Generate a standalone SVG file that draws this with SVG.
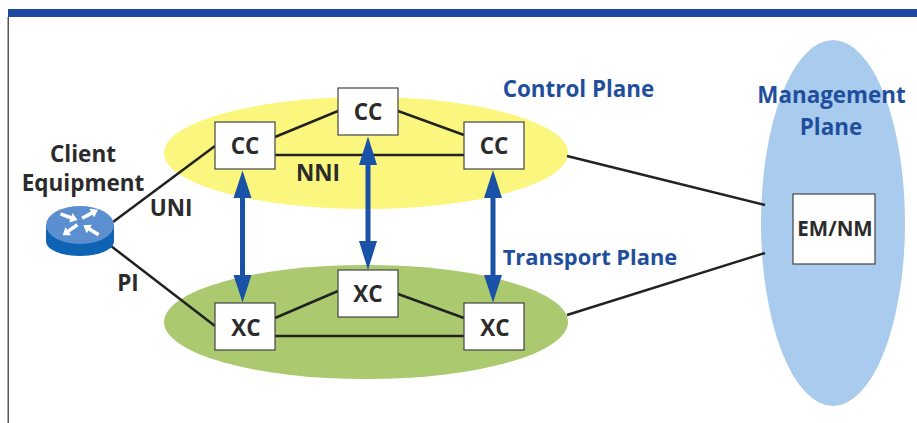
<svg xmlns="http://www.w3.org/2000/svg" width="917" height="423" viewBox="0 0 917 423">
<defs>
<path id="ar" d="M-9 -1.800H2V-5L9 0L2 5V1.800H-9Z" fill="#fff"/>
</defs>
<style>
text{font-family:"Open Sans","Noto Sans",sans-serif;font-weight:700;text-anchor:middle}
.k{fill:#2b2b2b;font-size:22.500px}
.b{fill:#1f4f9c;font-size:22.400px}
.n{fill:#fff;stroke:#444;stroke-width:1.2}
.l{stroke:#222;stroke-width:2.500;fill:none}
.a{stroke:#1a52a8;stroke-width:5;fill:none}
.h{fill:#1a52a8}
</style>
<rect width="917" height="423" fill="#fff"/>
<rect x="8" y="9" width="909" height="8" fill="#1d4aa0"/>
<rect x="7.500" y="17" width="1.500" height="406" fill="#555"/>
<g id="planes">
<ellipse cx="366" cy="153" rx="202" ry="56" fill="#fbf77e"/>
<ellipse cx="366" cy="322" rx="202" ry="57" fill="#abc96f"/>
<ellipse cx="833" cy="223" rx="72" ry="183" fill="#a9cbee"/>
</g>
<g id="connectors">
<path class="l" d="M113 222L215 146M111 246L215 326M275 137L338 111M398 111L464 135M275 155H464M275 318L338 291M398 294L464 318M275 336H464M567 156L765 205M567 315L765 253"/>
<path class="a" d="M242.500 195V277M368 162V244M493 195V277"/>
<path class="h" d="M242.500 170.500L233.500 198H251.500ZM242.500 302.500L233.500 275H251.500ZM368 136.500L359 165H377ZM368 270L359 241H377ZM493 170L484 198H502ZM493 302.500L484 275H502Z"/>
</g>
<g id="router">
<path d="M46 225V241C46 250 62 256 80 256C98 256 114 250 114 241V225Z" fill="#0f63b5"/>
<ellipse cx="80" cy="225" rx="34" ry="19" fill="#5b8fd0"/>
<use href="#ar" transform="translate(69 217) rotate(20)"/>
<use href="#ar" transform="translate(90 214) rotate(-28)"/>
<use href="#ar" transform="translate(70 230) rotate(145)"/>
<use href="#ar" transform="translate(91 230) rotate(212)"/>
</g>
<g id="cc1"><rect class="n" x="215" y="122" width="60" height="47"/><text class="k" x="245" y="154">CC</text></g>
<g id="cc2"><rect class="n" x="338" y="88" width="60" height="47"/><text class="k" x="368" y="120">CC</text></g>
<g id="cc3"><rect class="n" x="464" y="122" width="60" height="47"/><text class="k" x="494" y="154">CC</text></g>
<g id="xc1"><rect class="n" x="215" y="303" width="60" height="47"/><text class="k" x="246" y="336">XC</text></g>
<g id="xc2"><rect class="n" x="338" y="270" width="60" height="47"/><text class="k" x="368" y="302">XC</text></g>
<g id="xc3"><rect class="n" x="464" y="303" width="60" height="47"/><text class="k" x="495" y="336">XC</text></g>
<g id="em"><rect class="n" x="793" y="194" width="82" height="70"/><text class="k" x="835" y="236" style="font-size:20.500px">EM/NM</text></g>
<g id="labels">
<text class="k" x="83" y="162">Client</text>
<text class="k" x="83" y="191">Equipment</text>
<text class="k" x="171" y="216">UNI</text>
<text class="k" x="128" y="291">PI</text>
<text class="k" x="318" y="181">NNI</text>
<text class="b" x="578.500" y="97">Control Plane</text>
<text class="b" x="590" y="265" style="font-size:21.900px">Transport Plane</text>
<text class="b" x="831.500" y="103">Management</text>
<text class="b" x="831" y="135">Plane</text>
</g>
</svg>
